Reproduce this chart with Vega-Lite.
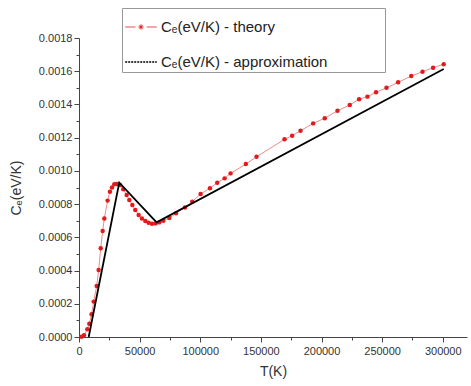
{
  "$schema": "https://vega.github.io/schema/vega-lite/v6.json",
  "width": 388,
  "height": 299,
  "autosize": "none",
  "padding": {"left": 79, "top": 38, "right": 4, "bottom": 49},
  "background": "white",
  "config": {"view": {"stroke": null}, "font": "Liberation Sans"},
  "data": {"values": [
    {"series": "Cₑ(eV/K) - theory", "T": 2000, "C": 0.000001},
    {"series": "Cₑ(eV/K) - theory", "T": 4100, "C": 0.00001},
    {"series": "Cₑ(eV/K) - theory", "T": 6900, "C": 0.000046},
    {"series": "Cₑ(eV/K) - theory", "T": 8500, "C": 0.00008},
    {"series": "Cₑ(eV/K) - theory", "T": 10400, "C": 0.000137},
    {"series": "Cₑ(eV/K) - theory", "T": 12100, "C": 0.000213},
    {"series": "Cₑ(eV/K) - theory", "T": 14600, "C": 0.000307},
    {"series": "Cₑ(eV/K) - theory", "T": 16200, "C": 0.000403},
    {"series": "Cₑ(eV/K) - theory", "T": 17900, "C": 0.000534},
    {"series": "Cₑ(eV/K) - theory", "T": 19500, "C": 0.000638},
    {"series": "Cₑ(eV/K) - theory", "T": 20900, "C": 0.000714},
    {"series": "Cₑ(eV/K) - theory", "T": 23600, "C": 0.000821},
    {"series": "Cₑ(eV/K) - theory", "T": 25500, "C": 0.000875},
    {"series": "Cₑ(eV/K) - theory", "T": 27200, "C": 0.0009},
    {"series": "Cₑ(eV/K) - theory", "T": 29100, "C": 0.000919},
    {"series": "Cₑ(eV/K) - theory", "T": 31100, "C": 0.000921},
    {"series": "Cₑ(eV/K) - theory", "T": 33800, "C": 0.000915},
    {"series": "Cₑ(eV/K) - theory", "T": 36500, "C": 0.000889},
    {"series": "Cₑ(eV/K) - theory", "T": 39300, "C": 0.000855},
    {"series": "Cₑ(eV/K) - theory", "T": 41500, "C": 0.000825},
    {"series": "Cₑ(eV/K) - theory", "T": 44000, "C": 0.000795},
    {"series": "Cₑ(eV/K) - theory", "T": 46400, "C": 0.000765},
    {"series": "Cₑ(eV/K) - theory", "T": 49200, "C": 0.000734},
    {"series": "Cₑ(eV/K) - theory", "T": 51900, "C": 0.000714},
    {"series": "Cₑ(eV/K) - theory", "T": 54700, "C": 0.000698},
    {"series": "Cₑ(eV/K) - theory", "T": 57400, "C": 0.000688},
    {"series": "Cₑ(eV/K) - theory", "T": 60200, "C": 0.000682},
    {"series": "Cₑ(eV/K) - theory", "T": 63200, "C": 0.000684},
    {"series": "Cₑ(eV/K) - theory", "T": 66200, "C": 0.00069},
    {"series": "Cₑ(eV/K) - theory", "T": 69500, "C": 0.0007},
    {"series": "Cₑ(eV/K) - theory", "T": 74500, "C": 0.000716},
    {"series": "Cₑ(eV/K) - theory", "T": 80000, "C": 0.000745},
    {"series": "Cₑ(eV/K) - theory", "T": 87400, "C": 0.00078},
    {"series": "Cₑ(eV/K) - theory", "T": 93400, "C": 0.000815},
    {"series": "Cₑ(eV/K) - theory", "T": 100300, "C": 0.000861},
    {"series": "Cₑ(eV/K) - theory", "T": 108000, "C": 0.000895},
    {"series": "Cₑ(eV/K) - theory", "T": 114000, "C": 0.000929},
    {"series": "Cₑ(eV/K) - theory", "T": 120100, "C": 0.000955},
    {"series": "Cₑ(eV/K) - theory", "T": 125000, "C": 0.000985},
    {"series": "Cₑ(eV/K) - theory", "T": 137600, "C": 0.001041},
    {"series": "Cₑ(eV/K) - theory", "T": 146400, "C": 0.001085},
    {"series": "Cₑ(eV/K) - theory", "T": 169500, "C": 0.00119},
    {"series": "Cₑ(eV/K) - theory", "T": 175800, "C": 0.001212},
    {"series": "Cₑ(eV/K) - theory", "T": 182700, "C": 0.001242},
    {"series": "Cₑ(eV/K) - theory", "T": 193100, "C": 0.001286},
    {"series": "Cₑ(eV/K) - theory", "T": 202700, "C": 0.001317},
    {"series": "Cₑ(eV/K) - theory", "T": 213200, "C": 0.001362},
    {"series": "Cₑ(eV/K) - theory", "T": 223300, "C": 0.001397},
    {"series": "Cₑ(eV/K) - theory", "T": 231000, "C": 0.001431},
    {"series": "Cₑ(eV/K) - theory", "T": 237900, "C": 0.001447},
    {"series": "Cₑ(eV/K) - theory", "T": 245000, "C": 0.001473},
    {"series": "Cₑ(eV/K) - theory", "T": 253600, "C": 0.0015},
    {"series": "Cₑ(eV/K) - theory", "T": 263200, "C": 0.001533},
    {"series": "Cₑ(eV/K) - theory", "T": 274000, "C": 0.001571},
    {"series": "Cₑ(eV/K) - theory", "T": 283300, "C": 0.001597},
    {"series": "Cₑ(eV/K) - theory", "T": 292000, "C": 0.001621},
    {"series": "Cₑ(eV/K) - theory", "T": 300800, "C": 0.001642},
    {"series": "Cₑ(eV/K) - approximation", "T": 8000, "C": 0},
    {"series": "Cₑ(eV/K) - approximation", "T": 33200, "C": 0.000929},
    {"series": "Cₑ(eV/K) - approximation", "T": 64000, "C": 0.00069},
    {"series": "Cₑ(eV/K) - approximation", "T": 300800, "C": 0.001613}
  ]},
  "layer": [
    {
      "transform": [{"filter": "datum.series === 'Cₑ(eV/K) - theory'"}],
      "mark": {"type": "line", "strokeWidth": 1, "clip": true},
      "encoding": {
        "x": {"field": "T", "type": "quantitative",
          "scale": {"domain": [0, 320000], "nice": false, "zero": false},
          "axis": {"orient": "bottom", "values": [0, 50000, 100000, 150000, 200000, 250000, 300000], "format": "d",
            "grid": false, "tickSize": 5, "tickColor": "#444", "domainColor": "#444", "labelColor": "#333",
            "labelFontSize": 11, "labelPadding": 3, "title": "T(K)", "titleFontSize": 14, "titleFontWeight": "normal",
            "titleColor": "#333", "titlePadding": 8, "labelFlush": false}},
        "y": {"field": "C", "type": "quantitative",
          "scale": {"domain": [0, 0.0018], "nice": false, "zero": false},
          "axis": {"orient": "left", "values": [0, 0.0002, 0.0004, 0.0006, 0.0008, 0.001, 0.0012, 0.0014, 0.0016, 0.0018], "format": ".4f",
            "grid": false, "tickSize": 5, "tickColor": "#444", "domainColor": "#444", "labelColor": "#333",
            "labelFontSize": 11, "labelPadding": 2, "title": "Cₑ(eV/K)", "titleFontSize": 14, "titleFontWeight": "normal",
            "titleColor": "#333", "titlePadding": 15, "labelFlush": false}},
        "color": {"field": "series", "type": "nominal",
          "scale": {"domain": ["Cₑ(eV/K) - theory", "Cₑ(eV/K) - approximation"], "range": ["#f08a8a", "#000000"]},
          "legend": {"orient": "none", "legendX": 43, "legendY": -30, "title": null,
            "symbolType": "stroke", "symbolSize": 1000, "symbolStrokeWidth": 1.5,
            "labelFontSize": 15, "labelOffset": 3, "rowPadding": 10, "padding": 2,
            "strokeColor": "#999", "fillColor": "white", "labelColor": "#222", "labelLimit": 400,
            "labelExpr": "datum.label + '\u2800\u2800\u2800\u2800\u2800'",
            "encode": {"symbols": {"update": {
              "shape": {"signal": "test(/theory/, datum.value) ? 'M-1,0H-0.35M0.35,0H1M-0.12,0A0.12,0.12 0 1,0 0.12,0A0.12,0.12 0 1,0 -0.12,0' : 'stroke'"},
              "strokeDash": {"signal": "test(/theory/, datum.value) ? [1,0] : [2,1]"},
              "fill": {"signal": "test(/theory/, datum.value) ? '#e41a1c' : 'transparent'"}
            }}}}}
      }
    },
    {
      "transform": [{"filter": "datum.series === 'Cₑ(eV/K) - theory'"}],
      "mark": {"type": "point", "shape": "circle", "filled": true, "size": 20, "color": "#e3191c", "opacity": 1},
      "encoding": {
        "x": {"field": "T", "type": "quantitative", "axis": null},
        "y": {"field": "C", "type": "quantitative", "axis": null}
      }
    },
    {
      "transform": [{"filter": "datum.series === 'Cₑ(eV/K) - approximation'"}],
      "mark": {"type": "line", "strokeWidth": 1.8},
      "encoding": {
        "x": {"field": "T", "type": "quantitative", "axis": null},
        "y": {"field": "C", "type": "quantitative", "axis": null},
        "color": {"field": "series", "type": "nominal"}
      }
    },
    {
      "transform": [{"filter": "datum.series === 'Cₑ(eV/K) - approximation'"}],
      "mark": {"type": "line", "opacity": 0, "color": "white"},
      "encoding": {
        "x": {"field": "T", "type": "quantitative",
          "axis": {"orient": "bottom", "values": [25000, 75000, 125000, 175000, 225000, 275000], "labels": false, "domain": false,
            "grid": false, "tickSize": 3, "tickColor": "#444", "title": null}},
        "y": {"field": "C", "type": "quantitative",
          "axis": {"orient": "left", "values": [0.0001, 0.0003, 0.0005, 0.0007, 0.0009, 0.0011, 0.0013, 0.0015, 0.0017], "labels": false, "domain": false,
            "grid": false, "tickSize": 3, "tickColor": "#444", "title": null}}
      }
    }
  ],
  "resolve": {"axis": {"x": "independent", "y": "independent"}}
}
